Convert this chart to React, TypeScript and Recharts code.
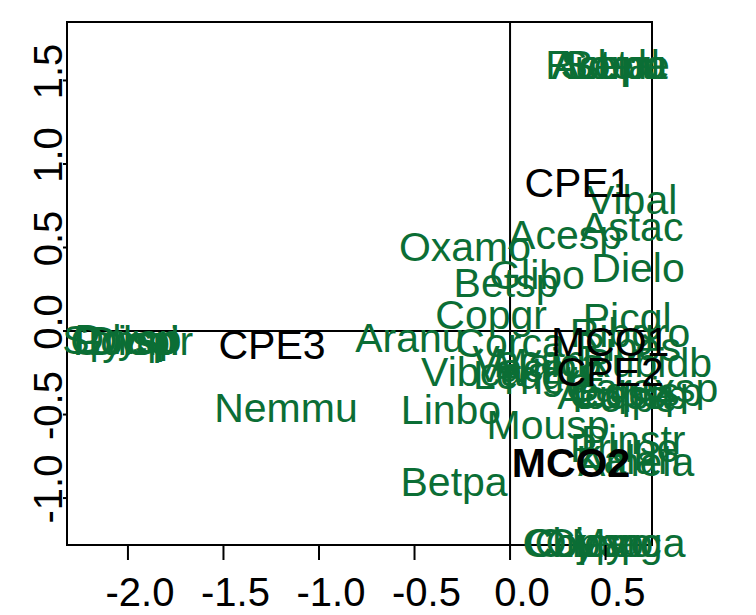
import React from 'react';
import { ScatterChart, Scatter, XAxis, YAxis, ReferenceLine, ReferenceArea } from 'recharts';

// species scores (green labels)
const speciesNames = [
    'Aster', 'Rubpu', 'Acepa', 'Betal', 'Sorde',
    'Vibal', 'Astac', 'Acesp', 'Oxamo', 'Dielo', 'Glibo', 'Betsp', 'Copgr', 'Picgl',
    'Aranu', 'Corca', 'Vibca', 'Vacan', 'Vacmy', 'Ledgr', 'Maica', 'Trieu',
    'Ribgro', 'Ribes', 'Rubidb', 'Carexsp', 'Equisp', 'Cupsp', 'Polpe', 'Acesa',
    'Linbo', 'Nemmu', 'Mousp', 'Pinstr', 'Prupe', 'Kalan', 'Amela', 'Betpa',
    'Sphsp', 'Polsp', 'Drysp', 'Gymdr', 'Dicpi',
    'Chica', 'Copsp', 'Oxaco', 'Cypac', 'Myrga',
];
const speciesX = [
    0.47, 0.5, 0.52, 0.54, 0.55,
    0.639, 0.639, 0.288, -0.236, 0.67, 0.141, -0.021, -0.099, 0.613,
    -0.524, 0.0, -0.199, 0.1, 0.14, 0.08, 0.2, 0.17,
    0.628, 0.62, 0.717, 0.69, 0.68, 0.62, 0.6, 0.545,
    -0.309, -1.173, 0.199, 0.644, 0.6, 0.62, 0.66, -0.293,
    -2.04, -2.02, -2.0, -1.98, -1.97,
    0.34, 0.39, 0.44, 0.49, 0.62,
];
const speciesY = [
    1.593, 1.593, 1.593, 1.593, 1.593,
    0.784, 0.623, 0.575, 0.503, 0.377, 0.335, 0.287, 0.096, 0.078,
    -0.042, -0.072, -0.246, -0.17, -0.22, -0.26, -0.19, -0.29,
    -0.012, -0.096, -0.19, -0.34, -0.36, -0.38, -0.4, -0.383,
    -0.473, -0.461, -0.563, -0.653, -0.7, -0.77, -0.78, -0.904,
    -0.05, -0.06, -0.045, -0.055, -0.06,
    -1.269, -1.269, -1.269, -1.269, -1.269,
];

// site / group scores (black labels)
const siteNames = ['CPE1', 'CPE2', 'CPE3', 'MCO1', 'MCO2'];
const siteX = [0.356, 0.524, -1.246, 0.524, 0.319];
const siteY = [0.886, -0.246, -0.084, -0.066, -0.79];
const boldSites = ['MCO2'];

const xTicks = [-2, -1.5, -1, -0.5, 0, 0.5];
const yTicks = [-1, -0.5, 0, 0.5, 1, 1.5];
const xDomain = [-2.319, 0.743];
const yDomain = [-1.281, 1.85];

const species = speciesNames.map((name, i) => ({ name, x: speciesX[i], y: speciesY[i] }));
const sites = siteNames.map((name, i) => ({ name, x: siteX[i], y: siteY[i] }));

const FONT = '"Liberation Sans", Arial, sans-serif';
const GREEN = '#0b6e35';

const labelShape = (color: string) => (props: any) => {
    const { cx, cy, payload } = props;
    return (
        <text
            x={cx}
            y={cy}
            dy="0.35em"
            textAnchor="middle"
            fontSize={41}
            fontFamily={FONT}
            fill={color}
            fontWeight={boldSites.includes(payload.name) ? 'bold' : 'normal'}
        >
            {payload.name}
        </text>
    );
};

const XTick = (props: any) => {
    const { x, y, payload } = props;
    return (
        <g>
            <line x1={x} y1={y} x2={x} y2={y + 15} stroke="#000" strokeWidth={2} />
            <text x={x + 12} y={y + 61} textAnchor="middle" fontSize={40} fontFamily={FONT} fill="#000">
                {payload.value.toFixed(1)}
            </text>
        </g>
    );
};

const YTick = (props: any) => {
    const { x, y, payload } = props;
    const tx = x - 5;
    const ty = y - 9;
    return (
        <g>
            <line x1={x} y1={y} x2={x - 4} y2={y} stroke="#000" strokeWidth={2} />
            <text
                x={tx}
                y={ty}
                transform={`rotate(-90 ${tx} ${ty})`}
                textAnchor="middle"
                fontSize={40}
                fontFamily={FONT}
                fill="#000"
            >
                {payload.value.toFixed(1)}
            </text>
        </g>
    );
};

export default function App() {
    return (
        <div style={{ width: 756, height: 615, background: '#fff' }}>
            <style>{'body{margin:0}'}</style>
            <ScatterChart width={756} height={615} margin={{ top: 22, right: 104, bottom: 0, left: 0 }}>
                <XAxis
                    type="number"
                    dataKey="x"
                    domain={xDomain}
                    ticks={xTicks}
                    interval={0}
                    height={70}
                    axisLine={false}
                    tickLine={false}
                    tickSize={0}
                    tickMargin={0}
                    tick={<XTick />}
                />
                <YAxis
                    type="number"
                    dataKey="y"
                    domain={yDomain}
                    ticks={yTicks}
                    interval={0}
                    width={67}
                    axisLine={false}
                    tickLine={false}
                    tickSize={0}
                    tickMargin={0}
                    tick={<YTick />}
                />
                <ReferenceArea
                    x1={xDomain[0]}
                    x2={xDomain[1]}
                    y1={yDomain[0]}
                    y2={yDomain[1]}
                    fill="none"
                    stroke="#000"
                    strokeWidth={2}
                />
                <ReferenceLine x={0} stroke="#000" strokeWidth={2} />
                <ReferenceLine y={0} stroke="#000" strokeWidth={2} />
                <Scatter data={species} shape={labelShape(GREEN)} isAnimationActive={false} />
                <Scatter data={sites} shape={labelShape('#000')} isAnimationActive={false} />
            </ScatterChart>
        </div>
    );
}
